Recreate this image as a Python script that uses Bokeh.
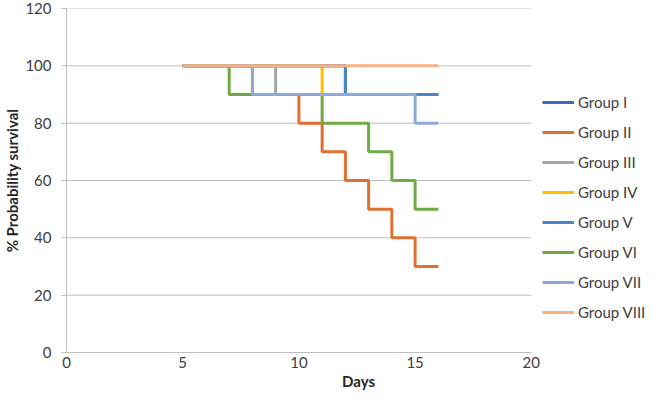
from bokeh.plotting import figure
from bokeh.models import Range1d, FixedTicker, Legend
from bokeh.embed import file_html
from bokeh.resources import INLINE

# ---- data ----
group_names = ["Group I", "Group II", "Group III", "Group IV",
               "Group V", "Group VI", "Group VII", "Group VIII"]
days_I = [5, 12, 16];                         surv_I = [100, 90, 90]
days_II = [5, 8, 10, 11, 12, 13, 14, 15, 16]; surv_II = [100, 90, 80, 70, 60, 50, 40, 30, 30]
days_III = [5, 9, 16];                        surv_III = [100, 90, 90]
days_IV = [5, 11, 16];                        surv_IV = [100, 90, 90]
days_V = [5, 12, 16];                         surv_V = [100, 90, 90]
days_VI = [5, 7, 11, 13, 14, 15, 16];         surv_VI = [100, 90, 80, 70, 60, 50, 50]
days_VII = [5, 8, 15, 16];                    surv_VII = [100, 90, 80, 80]
days_VIII = [5, 16];                          surv_VIII = [100, 100]
x_ticks = [0, 5, 10, 15, 20]
y_ticks = [0, 20, 40, 60, 80, 100, 120]
x_title = "Days"
y_title = "% Probability survival"

all_days = [days_I, days_II, days_III, days_IV, days_V, days_VI, days_VII, days_VIII]
all_surv = [surv_I, surv_II, surv_III, surv_IV, surv_V, surv_VI, surv_VII, surv_VIII]
colors = ["#3E6DB5", "#E07030", "#A5A5A5", "#FFC000",
          "#4A86C5", "#6FAA45", "#8EA9DB", "#F4B183"]

FONT = "Lato"
TXT = "#404040"

W, H = 650, 392
LEFT, TOP, BOTTOM = 62, 8, 39
AXIS_PX = 468  # pixel width of the 0..20 day axis
x_lo, x_hi = x_ticks[0], x_ticks[-1]
x_max = x_hi * (W - LEFT) / AXIS_PX  # frame extends right to hold legend

p = figure(width=W, height=H, output_backend="svg", toolbar_location=None,
           x_range=Range1d(x_lo, x_max), y_range=Range1d(y_ticks[0], y_ticks[-1]),
           min_border_left=LEFT, min_border_right=0,
           min_border_top=TOP, min_border_bottom=BOTTOM)
p.outline_line_color = None
p.background_fill_color = "white"
p.xgrid.visible = False
p.ygrid.visible = False

# horizontal gridlines limited to the axis extent
p.segment(x0=[x_lo] * len(y_ticks), x1=[x_hi] * len(y_ticks), y0=y_ticks, y1=y_ticks,
          line_color="#BFBFBF", line_width=1)

items = []
for name, d, s, c in zip(group_names, all_days, all_surv, colors):
    r = p.step(d, s, mode="after", line_color=c, line_width=3)
    items.append((name, [r]))

# axes
p.xaxis.ticker = FixedTicker(ticks=x_ticks)
p.yaxis.ticker = FixedTicker(ticks=y_ticks)
p.xaxis.bounds = (x_lo, x_hi)
for ax in (p.xaxis[0], p.yaxis[0]):
    ax.axis_line_color = "#BFBFBF"
    ax.major_tick_line_color = "#BFBFBF"
    ax.minor_tick_line_color = None
    ax.major_tick_in = 0
    ax.major_label_text_font = FONT
    ax.major_label_text_font_size = "15px"
    ax.major_label_text_color = TXT
    ax.axis_label_text_font = FONT
    ax.axis_label_text_font_style = "bold"
    ax.axis_label_text_font_size = "15px"
    ax.axis_label_text_color = "#262626"
p.xaxis.major_tick_out = 0
p.xaxis.major_label_standoff = 4
p.xaxis.axis_label = x_title
p.xaxis.axis_label_standoff = 1
p.yaxis.major_tick_out = 5
p.yaxis.major_label_standoff = 10
p.yaxis.axis_label = y_title
p.yaxis.axis_label_standoff = 1

# legend
lg = Legend(items=items, location=(476, 30))
lg.border_line_color = None
lg.background_fill_alpha = 0
lg.padding = 0
lg.margin = 0
lg.spacing = 10
lg.glyph_width = 32
lg.glyph_height = 20
lg.label_height = 20
lg.label_standoff = 4
lg.label_text_font = FONT
lg.label_text_font_size = "15px"
lg.label_text_color = TXT
p.add_layout(lg, "center")

open("out.html", "w").write(file_html(p, INLINE))
